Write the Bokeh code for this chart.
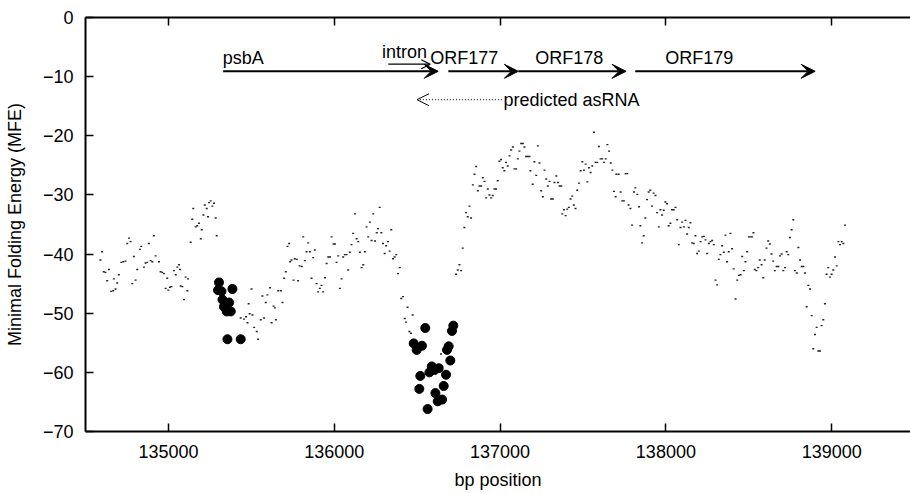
from bokeh.plotting import figure
from bokeh.models import (LinearAxis, FixedTicker, BasicTickFormatter, Range1d,
                          Arrow, OpenHead, VeeHead, Label, ColumnDataSource)
from bokeh.embed import file_html
from bokeh.resources import INLINE

FONT = "Liberation Sans"
FS = "18px"

# ---- sliding-window MFE values (small dots) ----
pos = [134590, 134600, 134610, 134620, 134631, 134641, 134655, 134667, 134671, 134681,
       134691, 134701, 134716, 134728, 134741, 134752, 134762, 134772, 134782, 134792,
       134802, 134812, 134828, 134836, 134852, 134862, 134872, 134882, 134893, 134903,
       134912, 134923, 134943, 134953, 134963, 134973, 134983, 134993, 134999, 135009,
       135018, 135033, 135044, 135054, 135064, 135070, 135074, 135084, 135094, 135104,
       135114, 135118, 135134, 135144, 135150, 135164, 135174, 135184, 135195, 135201,
       135211, 135219, 135231, 135239, 135245, 135255, 135265, 135275, 135285, 135291,
       135436, 135456, 135468, 135477, 135484, 135490, 135501, 135507, 135517, 135533,
       135541, 135557, 135567, 135577, 135587, 135597, 135613, 135622, 135634, 135642,
       135648, 135662, 135678, 135688, 135698, 135708, 135718, 135728, 135734, 135742,
       135754, 135762, 135774, 135782, 135791, 135804, 135813, 135823, 135833, 135843,
       135853, 135863, 135873, 135883, 135893, 135903, 135913, 135923, 135933, 135944,
       135954, 135964, 135974, 135984, 135996, 136004, 136014, 136024, 136034, 136044,
       136054, 136064, 136074, 136084, 136094, 136104, 136114, 136125, 136135, 136145,
       136155, 136165, 136175, 136185, 136195, 136205, 136215, 136225, 136235, 136246,
       136256, 136264, 136274, 136284, 136294, 136304, 136313, 136324, 136334, 136344,
       136354, 136364, 136374, 136384, 136395, 136404, 136415, 136425, 136433, 136442,
       136453, 136463, 136473, 136644, 136735, 136745, 136755, 136765, 136775, 136785,
       136795, 136805, 136815, 136825, 136836, 136846, 136856, 136866, 136876, 136886,
       136896, 136906, 136916, 136926, 136936, 136946, 136956, 136966, 136976, 136986,
       136996, 137006, 137016, 137026, 137036, 137046, 137057, 137067, 137077, 137087,
       137097, 137107, 137117, 137127, 137137, 137147, 137157, 137167, 137177, 137183,
       137197, 137207, 137218, 137228, 137238, 137248, 137258, 137268, 137278, 137288,
       137298, 137308, 137318, 137328, 137339, 137349, 137359, 137369, 137375, 137385,
       137395, 137405, 137415, 137425, 137435, 137445, 137455, 137465, 137476, 137486,
       137496, 137506, 137516, 137526, 137536, 137546, 137556, 137566, 137576, 137586,
       137596, 137606, 137616, 137627, 137637, 137647, 137657, 137667, 137677, 137687,
       137697, 137701, 137715, 137727, 137737, 137747, 137757, 137767, 137775, 137786,
       137796, 137808, 137816, 137828, 137838, 137846, 137856, 137866, 137876, 137886,
       137896, 137906, 137916, 137926, 137937, 137947, 137957, 137967, 137977, 137987,
       137997, 138007, 138017, 138027, 138037, 138047, 138058, 138068, 138078, 138088,
       138098, 138108, 138118, 138128, 138138, 138148, 138158, 138168, 138178, 138188,
       138198, 138209, 138219, 138229, 138239, 138249, 138259, 138269, 138279, 138289,
       138299, 138309, 138319, 138329, 138339, 138349, 138359, 138369, 138379, 138389,
       138399, 138409, 138420, 138430, 138440, 138450, 138460, 138470, 138480, 138490,
       138500, 138510, 138520, 138528, 138536, 138546, 138556, 138566, 138577, 138587,
       138596, 138607, 138617, 138627, 138637, 138647, 138657, 138668, 138678, 138688,
       138698, 138708, 138718, 138728, 138738, 138748, 138758, 138768, 138778, 138789,
       138799, 138809, 138819, 138829, 138839, 138849, 138859, 138869, 138879, 138889,
       138899, 138909, 138919, 138929, 138939, 138949, 138959, 138969, 138979, 138989,
       138999, 139009, 139020, 139030, 139040, 139050, 139060, 139070, 139080]
mfe = [-41.0, -39.6, -43.0, -43.1, -44.5, -42.6, -46.3, -46.2, -44.2, -45.9,
       -44.9, -43.5, -41.4, -41.3, -41.2, -38.2, -37.3, -37.9, -45.0, -40.4,
       -44.4, -42.6, -39.2, -38.7, -42.2, -41.5, -41.4, -38.2, -41.1, -41.3,
       -36.9, -40.3, -41.3, -43.0, -43.1, -43.3, -45.8, -44.1, -46.1, -45.6,
       -45.5, -42.8, -43.5, -42.2, -41.8, -42.6, -45.4, -45.5, -47.7, -43.9,
       -46.2, -44.2, -38.0, -34.1, -32.3, -35.4, -35.2, -34.8, -37.4, -35.9,
       -33.4, -31.7, -32.3, -33.7, -31.3, -31.0, -31.9, -31.4, -33.9, -36.9,
       -50.8, -51.0, -50.6, -51.6, -48.4, -50.1, -45.9, -50.3, -52.4, -53.1,
       -54.4, -51.1, -47.1, -50.8, -48.2, -46.9, -45.7, -51.6, -48.8, -49.1,
       -51.1, -46.2, -46.2, -48.2, -44.1, -43.0, -38.7, -38.2, -41.3, -41.0,
       -44.4, -40.8, -40.9, -44.5, -42.0, -42.1, -37.1, -41.1, -39.6, -38.1,
       -39.6, -44.1, -40.6, -39.3, -45.0, -46.4, -45.8, -45.3, -46.4, -44.0,
       -41.6, -40.5, -40.5, -37.1, -38.3, -38.3, -41.4, -40.3, -45.8, -44.2,
       -40.5, -40.1, -40.1, -42.7, -39.7, -38.4, -36.5, -33.2, -37.4, -37.9,
       -39.7, -42.3, -41.8, -39.6, -35.4, -37.1, -34.6, -37.7, -33.2, -37.8,
       -36.4, -35.7, -32.1, -36.4, -38.2, -39.9, -38.6, -37.9, -39.5, -35.9,
       -40.8, -40.5, -40.1, -43.3, -42.3, -47.5, -47.2, -50.9, -51.5, -49.0,
       -53.1, -53.4, -50.3, -56.9, -43.4, -42.7, -41.8, -42.8, -39.0, -35.5,
       -33.0, -33.7, -31.9, -33.9, -28.3, -26.5, -25.2, -29.3, -28.5, -28.5,
       -27.1, -27.7, -30.5, -29.0, -30.0, -30.5, -30.1, -29.0, -29.0, -27.6,
       -24.3, -24.0, -25.4, -25.9, -24.5, -25.1, -23.4, -22.4, -21.9, -25.6,
       -25.6, -23.9, -22.6, -21.3, -21.3, -21.9, -23.5, -23.5, -23.5, -25.9,
       -28.2, -24.4, -26.7, -21.7, -24.6, -29.3, -30.3, -25.8, -27.3, -28.5,
       -27.7, -30.7, -30.7, -27.9, -26.8, -27.9, -28.5, -28.5, -33.2, -32.5,
       -33.5, -32.4, -32.1, -30.7, -30.2, -31.7, -32.3, -29.2, -28.0, -25.9,
       -24.4, -25.8, -24.8, -27.8, -25.4, -26.2, -25.1, -19.4, -24.5, -24.5,
       -21.8, -23.9, -23.9, -24.5, -23.9, -21.5, -22.6, -24.6, -25.8, -29.4,
       -30.3, -26.5, -26.5, -29.5, -31.0, -31.0, -26.4, -26.4, -31.7, -32.3,
       -35.1, -29.5, -28.8, -29.9, -32.0, -35.2, -38.1, -36.9, -33.9, -30.8,
       -29.5, -29.2, -31.9, -29.7, -30.1, -33.0, -35.4, -32.5, -33.4, -32.6,
       -31.2, -31.5, -35.2, -34.8, -32.5, -32.5, -32.1, -34.2, -38.4, -35.5,
       -34.6, -35.4, -34.3, -36.6, -35.5, -34.7, -38.1, -38.2, -36.9, -39.9,
       -39.5, -37.9, -37.1, -37.0, -37.6, -39.9, -38.2, -37.9, -37.7, -38.4,
       -44.4, -45.2, -40.9, -40.1, -38.6, -39.7, -36.8, -41.3, -39.6, -36.5,
       -39.1, -42.5, -47.6, -44.4, -43.6, -43.5, -40.4, -42.8, -41.3, -39.6,
       -37.1, -37.1, -37.1, -36.4, -42.6, -42.8, -42.3, -41.0, -41.8, -44.0,
       -41.0, -39.0, -37.8, -38.3, -40.0, -41.2, -42.8, -42.1, -42.1, -40.3,
       -40.0, -42.8, -42.3, -39.6, -40.1, -37.2, -35.9, -34.2, -42.8, -43.2,
       -38.9, -41.0, -42.1, -42.1, -43.2, -48.9, -45.3, -45.9, -50.4, -56.0,
       -53.6, -52.4, -56.4, -56.4, -52.1, -51.1, -48.4, -43.4, -42.3, -43.9,
       -43.4, -42.7, -40.5, -42.0, -37.9, -38.4, -37.9, -38.2, -35.1]

# ---- significant windows (large dots) ----
sig_pos = [135299, 135305, 135320, 135326, 135335, 135352, 135356, 135366, 135376, 135386,
           135436, 136479, 136497, 136513, 136519, 136529, 136549, 136563, 136574, 136588,
           136604, 136610, 136624, 136630, 136650, 136660, 136674, 136680, 136690, 136700,
           136710, 136718]
sig_mfe = [-46.1, -44.8, -46.3, -47.7, -48.9, -49.7, -54.4, -48.2, -49.7, -45.9,
           -54.4, -55.1, -56.2, -62.8, -60.6, -55.5, -52.5, -66.2, -60.0, -59.0,
           -59.6, -63.5, -64.9, -59.3, -64.6, -62.3, -60.4, -56.2, -55.6, -58.0,
           -53.0, -52.1]

# ---- gene annotations ----
gene_names = ["psbA", "ORF177", "ORF178", "ORF179"]
gene_start = [135330, 136688, 137110, 137815]
gene_end = [136627, 137110, 137760, 138900]
gene_label_x = [135327, 136579, 137212, 137996]
gene_y = -9.1
gene_label_y = -6.9

intron_name = "intron"
intron_start, intron_end, intron_y = 136326, 136579, -7.9
intron_label_x, intron_label_y = 136288, -5.8

asrna_name = "predicted asRNA"
asrna_start, asrna_end, asrna_y = 137011, 136499, -13.9
asrna_label_x, asrna_label_y = 137021, -14.0

x_ticks = [135000, 136000, 137000, 138000, 139000]
y_ticks = [0, -10, -20, -30, -40, -50, -60, -70]

p = figure(width=910, height=493, x_range=Range1d(134500, 139475), y_range=Range1d(-70, 0),
           output_backend="svg", toolbar_location=None,
           min_border_left=85, min_border_right=0, min_border_top=17, min_border_bottom=62)
p.xgrid.visible = False
p.ygrid.visible = False
p.outline_line_color = None
p.background_fill_color = "white"
p.border_fill_color = "white"


def style(ax, ticks, show_labels=True):
    ax.ticker = FixedTicker(ticks=ticks)
    ax.major_tick_in = 8
    ax.major_tick_out = 0
    ax.minor_tick_line_color = None
    ax.major_tick_line_width = 1.5
    ax.major_tick_line_color = "black"
    ax.axis_line_width = 2
    ax.axis_line_color = "black"
    ax.major_label_text_font = FONT
    ax.axis_label_text_font = FONT
    ax.axis_label_text_font_size = FS
    ax.axis_label_text_font_style = "normal"
    ax.axis_label_text_color = "black"
    if show_labels:
        ax.major_label_text_font_size = FS
        ax.major_label_text_color = "black"
    else:
        ax.major_label_text_font_size = "1px"
        ax.major_label_text_color = None
        ax.major_label_standoff = 0


style(p.xaxis[0], x_ticks)
p.xaxis[0].formatter = BasicTickFormatter(use_scientific=False)
p.xaxis[0].major_label_standoff = 13
p.xaxis[0].axis_label = "bp position"
p.xaxis[0].axis_label_standoff = 9

style(p.yaxis[0], y_ticks)
p.yaxis[0].major_label_standoff = 12
p.yaxis[0].axis_label = "Minimal Folding Energy (MFE)"
p.yaxis[0].axis_label_standoff = 15

top = LinearAxis()
style(top, x_ticks, show_labels=False)
p.add_layout(top, "above")

src = ColumnDataSource(dict(pos=pos, mfe=mfe))
p.rect(x="pos", y="mfe", width=2, height=1.4, width_units="screen", height_units="screen",
       source=src, fill_color="#222222", line_color=None)
p.scatter(sig_pos, sig_mfe, size=9, marker="circle", color="black")

gsrc = ColumnDataSource(dict(x0=gene_start, x1=gene_end,
                             y0=[gene_y] * len(gene_start), y1=[gene_y] * len(gene_start)))
p.add_layout(Arrow(x_start="x0", y_start="y0", x_end="x1", y_end="y1", source=gsrc,
                   line_width=2, line_color="black",
                   end=VeeHead(size=14, line_width=1, line_color="black",
                               fill_color="black")))
for name, lx in zip(gene_names, gene_label_x):
    p.add_layout(Label(x=lx, y=gene_label_y, text=name, text_font=FONT, text_font_size=FS,
                       text_color="black", text_baseline="middle"))

p.add_layout(Arrow(x_start=intron_start, y_start=intron_y, x_end=intron_end, y_end=intron_y,
                   line_width=1.3, line_color="black",
                   end=OpenHead(size=9, line_width=1.3, line_color="black")))
p.add_layout(Label(x=intron_label_x, y=intron_label_y, text=intron_name, text_font=FONT,
                   text_font_size=FS, text_color="black", text_baseline="middle"))

p.add_layout(Arrow(x_start=asrna_start, y_start=asrna_y, x_end=asrna_end, y_end=asrna_y,
                   line_width=1, line_color="black", line_dash="1 2",
                   end=OpenHead(size=12, line_width=1, line_color="black")))
p.add_layout(Label(x=asrna_label_x, y=asrna_label_y, text=asrna_name, text_font=FONT,
                   text_font_size=FS, text_color="black", text_baseline="middle"))

open("out.html", "w").write(file_html(p, INLINE))
